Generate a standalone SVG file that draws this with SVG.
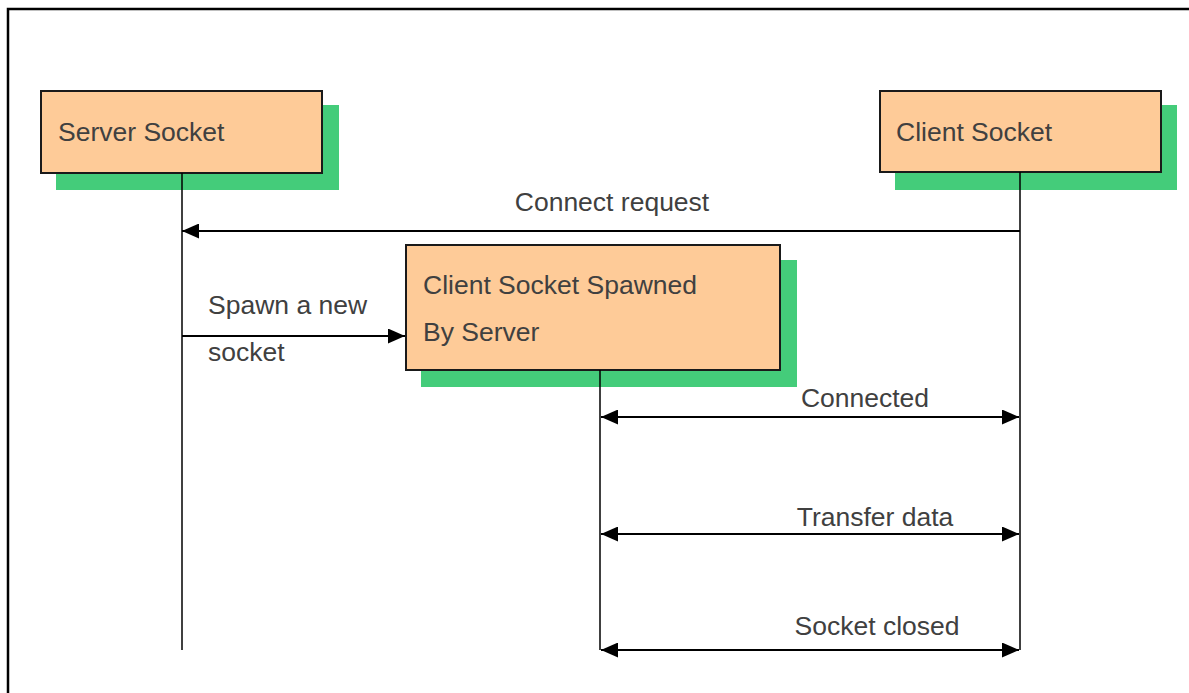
<svg xmlns="http://www.w3.org/2000/svg" width="1189" height="693" viewBox="0 0 1189 693">
<defs>
<style>
.shadow{fill:#44cc7a}
.box{fill:#fecb98;stroke:#1a1a1a;stroke-width:2}
.t{font-family:"Liberation Sans",Arial,sans-serif;font-size:26.5px;fill:#404040}
.life{stroke:#000;stroke-width:1.5;fill:none}
.msg{stroke:#000;stroke-width:2;fill:none}
</style>
<marker id="ah" viewBox="0 0 17 15" refX="17" refY="7.5" markerWidth="17" markerHeight="15" markerUnits="userSpaceOnUse" orient="auto-start-reverse">
<path d="M0,0 L17,7.5 L0,15 Z" fill="#000"/>
</marker>
</defs>
<rect width="1189" height="693" fill="#fff"/>
<path d="M8,693 V9 H1189" fill="none" stroke="#000" stroke-width="2.5"/>
<g id="server-socket">
<rect class="shadow" x="56" y="105" width="283" height="85"/>
<rect class="box" x="41" y="91" width="281" height="82"/>
<text class="t" x="58" y="141">Server Socket</text>
</g>
<g id="client-socket">
<rect class="shadow" x="895" y="105" width="282" height="85"/>
<rect class="box" x="880" y="91" width="281" height="81"/>
<text class="t" x="896" y="141">Client Socket</text>
</g>
<g id="spawned-socket">
<rect class="shadow" x="421" y="260" width="376" height="127"/>
<rect class="box" x="406" y="245" width="374" height="125"/>
<text class="t" x="423" y="294">Client Socket Spawned</text>
<text class="t" x="423" y="341">By Server</text>
</g>
<g id="connectors">
<line class="life" x1="182" y1="173" x2="182" y2="650"/>
<line class="life" x1="1020" y1="172" x2="1020" y2="650"/>
<line class="life" x1="600" y1="370" x2="600" y2="650"/>
<line class="msg" x1="1020" y1="231" x2="182" y2="231" marker-end="url(#ah)"/>
<line class="msg" x1="182" y1="336" x2="405" y2="336" marker-end="url(#ah)"/>
<line class="msg" x1="601" y1="417" x2="1019" y2="417" marker-start="url(#ah)" marker-end="url(#ah)"/>
<line class="msg" x1="601" y1="534" x2="1019" y2="534" marker-start="url(#ah)" marker-end="url(#ah)"/>
<line class="msg" x1="601" y1="650" x2="1019" y2="650" marker-start="url(#ah)" marker-end="url(#ah)"/>
</g>
<g id="labels">
<text class="t" x="612" y="211" text-anchor="middle">Connect request</text>
<text class="t" x="208" y="314">Spawn a new</text>
<text class="t" x="208" y="361">socket</text>
<text class="t" x="865" y="407" text-anchor="middle">Connected</text>
<text class="t" x="875" y="526" text-anchor="middle">Transfer data</text>
<text class="t" x="877" y="635" text-anchor="middle">Socket closed</text>
</g>
</svg>
